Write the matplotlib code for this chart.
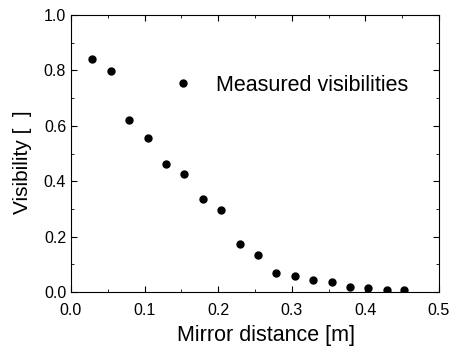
import matplotlib
matplotlib.use("Agg")
from matplotlib import pyplot as plt
from matplotlib.ticker import MultipleLocator

# data
mirror_distance = [0.029, 0.054, 0.079, 0.104, 0.129, 0.154, 0.179, 0.204, 0.229,
                   0.254, 0.279, 0.304, 0.329, 0.354, 0.379, 0.404, 0.429, 0.453]
visibility = [0.840, 0.797, 0.620, 0.555, 0.463, 0.427, 0.335, 0.297, 0.175,
              0.132, 0.068, 0.059, 0.042, 0.036, 0.018, 0.013, 0.006, 0.006]

plt.rcParams['font.family'] = ['Liberation Sans', 'DejaVu Sans']

fig = plt.figure(figsize=(4.56, 3.49), dpi=100)
ax = fig.add_axes([0.1557, 0.1633, 0.807, 0.7937])

ax.plot(mirror_distance, visibility, linestyle='', marker='o', markersize=5,
        color='black', label='Measured visibilities')

ax.set_xlim(0.0, 0.5)
ax.set_ylim(0.0, 1.0)
ax.xaxis.set_major_locator(MultipleLocator(0.1))
ax.xaxis.set_minor_locator(MultipleLocator(0.05))
ax.yaxis.set_major_locator(MultipleLocator(0.2))
ax.yaxis.set_minor_locator(MultipleLocator(0.1))
ax.xaxis.set_major_formatter(plt.FormatStrFormatter('%.1f'))
ax.yaxis.set_major_formatter(plt.FormatStrFormatter('%.1f'))
ax.tick_params(which='both', direction='in', top=True, right=True, labelsize=11.5)
ax.tick_params(which='major', length=4)
ax.tick_params(which='minor', length=2)
ax.tick_params(axis='x', which='major', pad=8)
ax.tick_params(axis='y', which='major', pad=3.5)

ax.set_xlabel('Mirror distance [m]', fontsize=15.5)
ax.set_ylabel('Visibility [  ]', fontsize=15)
ax.xaxis.set_label_coords(0.53, -0.118)
ax.yaxis.set_label_coords(-0.106, 0.47)

ax.legend(loc='center left', bbox_to_anchor=(0.274, 0.747), frameon=False,
          numpoints=1, handlelength=1.0, handletextpad=1.05, borderpad=0,
          borderaxespad=0, fontsize=15.5)

fig.savefig('out.png', dpi=100)
